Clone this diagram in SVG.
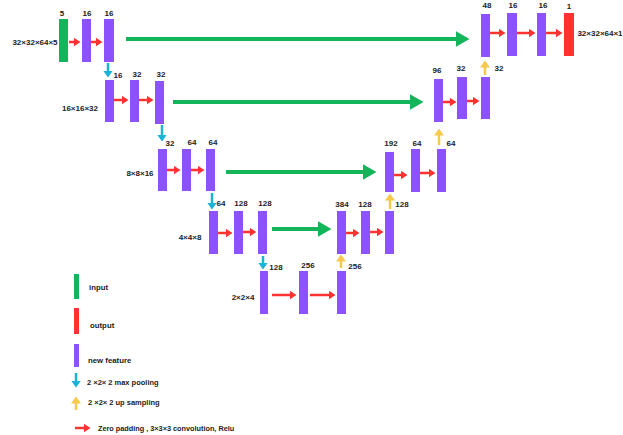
<svg xmlns="http://www.w3.org/2000/svg" width="623" height="435" viewBox="0 0 623 435">
<style>
.p{fill:#8c52ff}.g{fill:#12b55a}.r{fill:#ff3131}
.t{font-family:"Liberation Sans",Arial,sans-serif;font-weight:bold;font-size:8px;fill:#222;text-anchor:middle}
.l{font-family:"Liberation Sans",Arial,sans-serif;font-weight:bold;font-size:7.8px;fill:#222}
.ga{stroke:#12b55a;stroke-width:4;fill:none}
.ra{stroke:#ff3131;stroke-width:2.5;fill:none}
.ca{stroke:#1bb3d8;stroke-width:2.5;fill:none}
.ya{stroke:#f6c84c;stroke-width:2.5;fill:none}
</style>
<defs>
<marker id="mg" markerUnits="userSpaceOnUse" viewBox="0 0 14 16" markerWidth="14" markerHeight="16" refX="0.5" refY="8" orient="auto"><path d="M0,0L14,8L0,16Z" fill="#12b55a"/></marker>
<marker id="mr" markerUnits="userSpaceOnUse" viewBox="0 0 7 9" markerWidth="7" markerHeight="9" refX="0.5" refY="4.5" orient="auto"><path d="M0,0L7,4.5L0,9Z" fill="#ff3131"/></marker>
<marker id="mc" markerUnits="userSpaceOnUse" viewBox="0 0 7 10" markerWidth="7" markerHeight="10" refX="0.5" refY="5" orient="auto"><path d="M0,0L7,5L0,10Z" fill="#1bb3d8"/></marker>
<marker id="my" markerUnits="userSpaceOnUse" viewBox="0 0 7 10" markerWidth="7" markerHeight="10" refX="0.5" refY="5" orient="auto"><path d="M0,0L7,5L0,10Z" fill="#f6c84c"/></marker>
</defs>

<g id="connectors">
<line class="ga" x1="126" y1="39" x2="456" y2="39" marker-end="url(#mg)"/>
<line class="ga" x1="173" y1="102" x2="410" y2="102" marker-end="url(#mg)"/>
<line class="ga" x1="226" y1="172" x2="363" y2="172" marker-end="url(#mg)"/>
<line class="ga" x1="272" y1="229" x2="318" y2="229" marker-end="url(#mg)"/>

<line class="ra" x1="69" y1="42" x2="74" y2="42" marker-end="url(#mr)"/>
<line class="ra" x1="91" y1="42" x2="96" y2="42" marker-end="url(#mr)"/>
<line class="ra" x1="490" y1="33" x2="499" y2="33" marker-end="url(#mr)"/>
<line class="ra" x1="517" y1="33" x2="529" y2="33" marker-end="url(#mr)"/>
<line class="ra" x1="546" y1="33" x2="556" y2="33" marker-end="url(#mr)"/>
<line class="ra" x1="114" y1="100" x2="122" y2="100" marker-end="url(#mr)"/>
<line class="ra" x1="139" y1="100" x2="147" y2="100" marker-end="url(#mr)"/>
<line class="ra" x1="443" y1="102" x2="450" y2="102" marker-end="url(#mr)"/>
<line class="ra" x1="467" y1="101" x2="473" y2="101" marker-end="url(#mr)"/>
<line class="ra" x1="167" y1="170" x2="174" y2="170" marker-end="url(#mr)"/>
<line class="ra" x1="191" y1="170" x2="198" y2="170" marker-end="url(#mr)"/>
<line class="ra" x1="394" y1="175" x2="401" y2="175" marker-end="url(#mr)"/>
<line class="ra" x1="420" y1="173" x2="429" y2="173" marker-end="url(#mr)"/>
<line class="ra" x1="218" y1="233" x2="226" y2="233" marker-end="url(#mr)"/>
<line class="ra" x1="243" y1="232" x2="250" y2="232" marker-end="url(#mr)"/>
<line class="ra" x1="346" y1="233" x2="353" y2="233" marker-end="url(#mr)"/>
<line class="ra" x1="370" y1="232" x2="377" y2="232" marker-end="url(#mr)"/>
<line class="ra" x1="272" y1="295" x2="290" y2="295" marker-end="url(#mr)"/>
<line class="ra" x1="310" y1="295" x2="329" y2="295" marker-end="url(#mr)"/>

<line class="ca" x1="108" y1="63" x2="108" y2="71" marker-end="url(#mc)"/>
<line class="ca" x1="162" y1="125" x2="162" y2="135" marker-end="url(#mc)"/>
<line class="ca" x1="212" y1="193" x2="212" y2="203" marker-end="url(#mc)"/>
<line class="ca" x1="263" y1="256" x2="263" y2="263" marker-end="url(#mc)"/>

<line class="ya" x1="485" y1="75" x2="485" y2="67" marker-end="url(#my)"/>
<line class="ya" x1="439" y1="145" x2="439" y2="135" marker-end="url(#my)"/>
<line class="ya" x1="390" y1="209" x2="390" y2="200" marker-end="url(#my)"/>
<line class="ya" x1="341" y1="268" x2="341" y2="261" marker-end="url(#my)"/>
</g>

<g id="row1">
<rect class="g" x="59" y="19" width="9" height="43"/>
<rect class="p" x="82" y="19" width="9" height="43"/>
<rect class="p" x="104" y="19" width="10" height="43"/>
<text class="t" x="62" y="16">5</text><text class="t" x="87" y="16">16</text><text class="t" x="109" y="16">16</text>
<text class="t" x="35" y="45">32×32×64×5</text>
</g>
<g id="row1-right">
<rect class="p" x="481" y="14" width="9" height="43"/>
<rect class="p" x="507" y="13" width="10" height="43"/>
<rect class="p" x="537" y="13" width="9" height="43"/>
<rect class="r" x="564" y="13" width="10" height="43"/>
<text class="t" x="487" y="7.5">48</text><text class="t" x="513" y="8">16</text><text class="t" x="543" y="8">16</text><text class="t" x="569" y="9">1</text>
<text class="t" x="600" y="36">32×32×64×1</text>
</g>
<g id="row2">
<rect class="p" x="105" y="80" width="9" height="42"/>
<rect class="p" x="130" y="80" width="9" height="42"/>
<rect class="p" x="155" y="81" width="9" height="43"/>
<text class="t" x="118" y="78">16</text><text class="t" x="137" y="77">32</text><text class="t" x="161" y="77">32</text>
<text class="t" x="80" y="111">16×16×32</text>
</g>
<g id="row2-right">
<rect class="p" x="434" y="79" width="9" height="43"/>
<rect class="p" x="457" y="77" width="10" height="42"/>
<rect class="p" x="481" y="77" width="9" height="42"/>
<text class="t" x="437" y="73">96</text><text class="t" x="461" y="71">32</text><text class="t" x="499" y="71">32</text>
</g>
<g id="row3">
<rect class="p" x="158" y="149" width="9" height="42"/>
<rect class="p" x="182" y="149" width="9" height="42"/>
<rect class="p" x="206" y="149" width="9" height="42"/>
<text class="t" x="170" y="146">32</text><text class="t" x="192" y="145">64</text><text class="t" x="213" y="145">64</text>
<text class="t" x="140" y="176">8×8×16</text>
</g>
<g id="row3-right">
<rect class="p" x="385" y="152" width="9" height="40"/>
<rect class="p" x="411" y="149" width="9" height="43"/>
<rect class="p" x="437" y="149" width="9" height="43"/>
<text class="t" x="391" y="146">192</text><text class="t" x="417" y="146">64</text><text class="t" x="451" y="146">64</text>
</g>
<g id="row4">
<rect class="p" x="209" y="211" width="9" height="43"/>
<rect class="p" x="234" y="211" width="9" height="43"/>
<rect class="p" x="258" y="211" width="9" height="43"/>
<text class="t" x="221" y="206">64</text><text class="t" x="241" y="206">128</text><text class="t" x="265" y="206">128</text>
<text class="t" x="190" y="240">4×4×8</text>
</g>
<g id="row4-right">
<rect class="p" x="337" y="211" width="9" height="43"/>
<rect class="p" x="361" y="211" width="9" height="43"/>
<rect class="p" x="385" y="211" width="9" height="43"/>
<text class="t" x="342" y="207">384</text><text class="t" x="365" y="207">128</text><text class="t" x="402" y="207">128</text>
</g>
<g id="row5">
<rect class="p" x="260" y="271" width="8" height="43"/>
<rect class="p" x="299" y="271" width="9" height="43"/>
<rect class="p" x="337" y="271" width="9" height="43"/>
<text class="t" x="276" y="270">128</text><text class="t" x="308" y="268">256</text><text class="t" x="355" y="269">256</text>
<text class="t" x="243" y="300">2×2×4</text>
</g>

<g id="legend">
<rect class="g" x="74" y="274" width="5" height="25"/>
<text class="l" x="89" y="290">input</text>
<rect class="r" x="74" y="308" width="5" height="26"/>
<text class="l" x="90" y="328">output</text>
<rect class="p" x="74" y="344" width="5" height="23"/>
<text class="l" x="88" y="363">new feature</text>
<line class="ca" x1="76" y1="373" x2="76" y2="381" marker-end="url(#mc)"/>
<text class="l" x="87" y="385" style="font-size:7.5px">2 ×2× 2 max pooling</text>
<line class="ya" x1="76" y1="410" x2="76" y2="403" marker-end="url(#my)"/>
<text class="l" x="88" y="405" style="font-size:7.5px">2 ×2× 2 up sampling</text>
<line class="ra" x1="75" y1="428" x2="84" y2="428" marker-end="url(#mr)"/>
<text class="l" x="98" y="431" style="font-size:7.3px">Zero padding , 3×3×3 convolution, Relu</text>
</g>
</svg>
